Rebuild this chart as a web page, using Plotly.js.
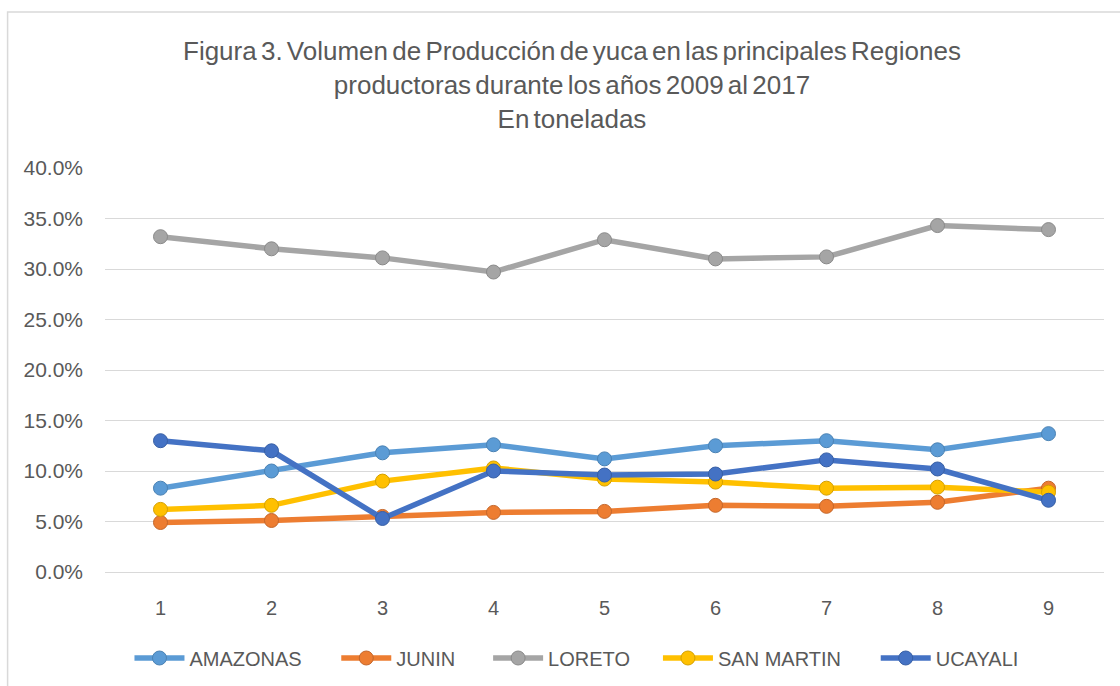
<!DOCTYPE html>
<html>
<head>
<meta charset="utf-8">
<script src="https://cdn.plot.ly/plotly-3.0.1.min.js"></script>
<style>
html,body{margin:0;padding:0;background:#fff;}
#chart{width:1120px;height:686px;}
#chart .gtitle{word-spacing:-3px;}
</style>
</head>
<body>
<div id="chart"></div>
<script>
const years = ['1','2','3','4','5','6','7','8','9'];
const amazonas  = [0.083, 0.100, 0.118, 0.126, 0.112, 0.125, 0.130, 0.121, 0.137];
const junin     = [0.049, 0.051, 0.055, 0.059, 0.060, 0.066, 0.065, 0.069, 0.083];
const loreto    = [0.332, 0.320, 0.311, 0.297, 0.329, 0.310, 0.312, 0.343, 0.339];
const sanMartin = [0.062, 0.066, 0.090, 0.103, 0.092, 0.089, 0.083, 0.084, 0.079];
const ucayali   = [0.130, 0.120, 0.053, 0.100, 0.096, 0.097, 0.111, 0.102, 0.071];

const seriesNames = ['AMAZONAS','JUNIN','LORETO','SAN MARTIN','UCAYALI'];
const seriesData = [amazonas, junin, loreto, sanMartin, ucayali];
const colors = ['#5B9BD5','#ED7D31','#A5A5A5','#FFC000','#4472C4'];
const edge = ['#4a82b4','#c4662a','#8a8a8a','#d4a000','#375fa5'];
const legendIds = ['legend','legend2','legend3','legend4','legend5'];
// left edge of each legend entry (px from left of page)
const legendLeftPx = [129, 336, 488, 658, 876];

const traces = seriesNames.map((n,i)=>({
  type:'scatter', mode:'lines+markers', name:n,
  x: years, y: seriesData[i],
  line:{color:colors[i], width:5.5},
  marker:{color:colors[i], size:14, line:{color:edge[i], width:1}},
  legend: legendIds[i],
  hoverinfo:'x+y+name'
}));

const font = 'Liberation Sans, Arial, sans-serif';
const plotL = 104.5, plotW = 1000, plotB = 572, plotH = 404;
const layout = {
  width:1120, height:686,
  margin:{l:104.5, r:15.5, t:168, b:114, autoexpand:false},
  paper_bgcolor:'#fff', plot_bgcolor:'#fff',
  font:{family:font, color:'#595959', size:20},
  title:{
    text:'Figura 3. Volumen de Producción de yuca en las principales Regiones<br>productoras durante los años 2009 al 2017<br>En toneladas',
    font:{family:font, size:26, color:'#595959'},
    xref:'container', x:0.5107, xanchor:'center',
    yref:'container', y:0.912, yanchor:'top'
  },
  xaxis:{
    type:'category', range:[-0.5, 8.5],
    showgrid:false, zeroline:false, showline:false,
    ticks:'', tickfont:{size:20, color:'#595959'},
    ticklabelstandoff:22
  },
  yaxis:{
    range:[0, 0.40], dtick:0.05, tickformat:'.1%',
    showgrid:true, gridcolor:'#D9D9D9', gridwidth:1,
    zeroline:true, zerolinecolor:'#D9D9D9', zerolinewidth:1,
    showline:false, ticks:'',
    tickfont:{size:21, color:'#595959'},
    ticklabelstandoff:21
  },
  showlegend:true,
  shapes:[{
    type:'rect', xref:'paper', yref:'paper',
    x0:-0.0975, x1:1.2, y0:-0.5, y1:1.386,
    line:{color:'#D9D9D9', width:1.5}, fillcolor:'rgba(0,0,0,0)', layer:'below'
  }]
};
legendIds.forEach((id,i)=>{
  layout[id] = {
    orientation:'h', xref:'paper', x:(legendLeftPx[i]-plotL)/plotW, xanchor:'left',
    yref:'container', y:1 - 658/686, yanchor:'middle',
    font:{size:20, color:'#595959'}, itemwidth:50,
    bgcolor:'rgba(0,0,0,0)', borderwidth:0
  };
});

Plotly.newPlot('chart', traces, layout, {displayModeBar:false, staticPlot:true});
</script>
</body>
</html>
